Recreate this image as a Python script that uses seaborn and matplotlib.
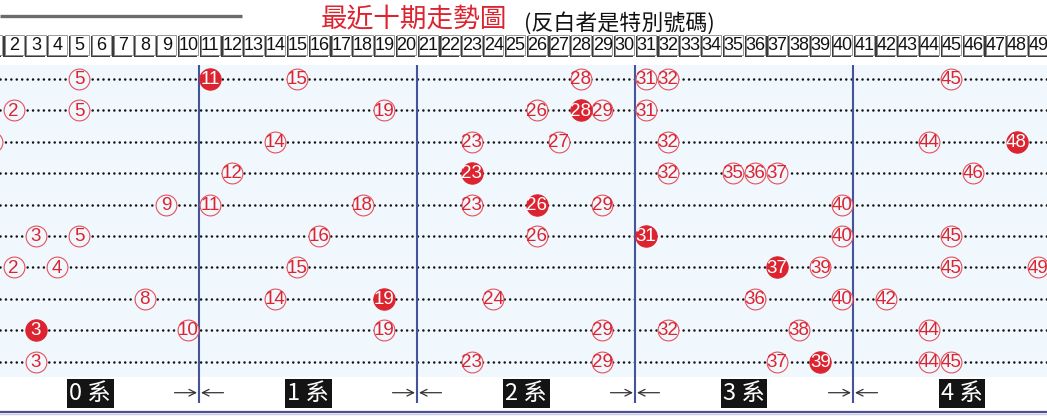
"""
Ten-draw lottery trend chart (最近十期走勢圖), redrawn with seaborn/matplotlib.

Output: out.png
"""

import matplotlib
matplotlib.use("Agg")
import matplotlib.pyplot as plt
from matplotlib.patches import Rectangle
import pandas as pd
import seaborn as sns

# ---- data -------------------------------------------------------------
# six drawn numbers per draw, newest draw on top
draw_numbers = [
    [5, 15, 28, 31, 32, 45],
    [2, 5, 19, 26, 29, 31],
    [1, 14, 23, 27, 32, 44],
    [12, 32, 35, 36, 37, 46],
    [9, 11, 18, 23, 29, 40],
    [3, 5, 16, 26, 40, 45],
    [2, 4, 15, 39, 45, 49],
    [8, 14, 24, 36, 40, 42],
    [10, 19, 29, 32, 38, 44],
    [3, 23, 29, 37, 44, 45],
]
# special number (drawn reversed / filled) per draw
special_numbers = [11, 28, 48, 23, 26, 31, 37, 19, 3, 39]
ball_numbers = list(range(1, 50))
group_labels = ["0 系", "1 系", "2 系", "3 系", "4 系"]
group_dividers = [10.5, 20.5, 30.5, 40.5, 50.5]
title_text = "最近十期走勢圖"
subtitle_text = "(反白者是特別號碼)"

# ---- layout (pixels of the 1047x420 picture) ---------------------------
W, H = 1047, 420
X_PITCH, X_FIRST = 21.8, -8.1     # column pitch, centre of ball 1
Y_PITCH, Y_FIRST = 31.41, 79.0    # row pitch, centre of first draw

RED = "#dc2430"
RED_EDGE = "#e8505a"
BG = "#f0f8fd"
DIVIDER = "#45539a"
NUM_FONT = ["Liberation Sans Narrow", "Liberation Sans", "DejaVu Sans"]
CJK_FONT = ["Noto Sans CJK TC", "DejaVu Sans"]


def px_x(p):
    return 1 + (p - X_FIRST) / X_PITCH


def px_y(p):
    return (p - Y_FIRST) / Y_PITCH


rows = []
for r, (nums, sp) in enumerate(zip(draw_numbers, special_numbers)):
    for n in nums:
        rows.append({"draw": r, "ball": n, "special": False})
    rows.append({"draw": r, "ball": sp, "special": True})
df = pd.DataFrame(rows)

sns.set_theme(style="white")
plt.rcParams["font.family"] = NUM_FONT

fig = plt.figure(figsize=(W / 100, H / 100), dpi=100)
ax = fig.add_axes([0, 0, 1, 1])

# light blue band behind the draws + dotted guide per draw
ax.axhspan(px_y(65), px_y(376.5), color=BG, zorder=0, lw=0)
for r in range(len(draw_numbers)):
    ax.axhline(r, ls=(0, (0.01, 2.1)), lw=1.85, color="#111111",
               dash_capstyle="round", zorder=1)

# group dividers
ax.vlines(group_dividers, px_y(65), px_y(403), color=DIVIDER, lw=1.5, zorder=2)

# balls
normal = df[~df["special"]]
special = df[df["special"]]
sns.scatterplot(data=normal, x="ball", y="draw", ax=ax, s=225, marker="o",
                color=BG, edgecolor=RED_EDGE, linewidth=0.8, zorder=3, legend=False)
sns.scatterplot(data=special, x="ball", y="draw", ax=ax, s=235, marker="o",
                color=RED, edgecolor=RED, linewidth=0.8, zorder=3, legend=False)
for _, row in df.iterrows():
    ax.text(row["ball"], row["draw"] + 0.02, str(row["ball"]), ha="center", va="center",
            fontsize=13.5, color="white" if row["special"] else RED, zorder=4)

# header boxes with ball numbers
box_top, box_bot = px_y(35), px_y(56)
for n in ball_numbers:
    ax.add_patch(Rectangle((n - 0.47, box_top + 0.03), 0.9, box_bot - box_top,
                           fc="#3a3a3a", ec="none", zorder=2))
    ax.add_patch(Rectangle((n - 0.42, box_top), 0.88, box_bot - box_top - 0.03,
                           fc="white", ec="#8a8a8a", lw=0.6, zorder=2))
    ax.text(n + 0.02, (box_top + box_bot) / 2, str(n), ha="center", va="center",
            fontsize=13, color="#111111", zorder=3)

# title
ax.plot([px_x(0), px_x(242)], [px_y(15.5)] * 2, color="#6b6b6b", lw=2.4,
        solid_capstyle="butt")
ax.text(px_x(321), px_y(19.5), title_text, color=RED, fontsize=19.2,
        ha="left", va="center", family=CJK_FONT)
ax.text(px_x(524), px_y(23.5), subtitle_text, color="#111111", fontsize=15.8,
        ha="left", va="center", family=CJK_FONT)

# group labels and arrows
lab_y = px_y(393.5)
for i, lab in enumerate(group_labels):
    cx = 5.5 + 10 * i
    ax.add_patch(Rectangle((cx - 47 / X_PITCH / 2, lab_y - 29 / Y_PITCH / 2),
                           47 / X_PITCH, 29 / Y_PITCH, fc="#141414", ec="none", zorder=2))
    ax.text(cx, lab_y, lab, color="white", fontsize=17, ha="center", va="center",
            family=CJK_FONT, zorder=3)
arrow_y = px_y(392.7)
for d in group_dividers:
    ax.annotate("", xy=(d - 2 / X_PITCH, arrow_y), xytext=(d - 24.5 / X_PITCH, arrow_y),
                arrowprops=dict(arrowstyle="->", color="#333333", lw=0.9,
                                shrinkA=0, shrinkB=0))
    ax.annotate("", xy=(d + 2 / X_PITCH, arrow_y), xytext=(d + 24.5 / X_PITCH, arrow_y),
                arrowprops=dict(arrowstyle="->", color="#333333", lw=0.9,
                                shrinkA=0, shrinkB=0))

# bottom rule
ax.axhline(px_y(411.7), color="#4a4f98", lw=1.6)
ax.axhline(px_y(413.6), color="#c9c9de", lw=1.0)

ax.set_xlim(px_x(0), px_x(W))
ax.set_ylim(px_y(H), px_y(0))
ax.axis("off")

fig.savefig("out.png", dpi=100)
plt.close(fig)
